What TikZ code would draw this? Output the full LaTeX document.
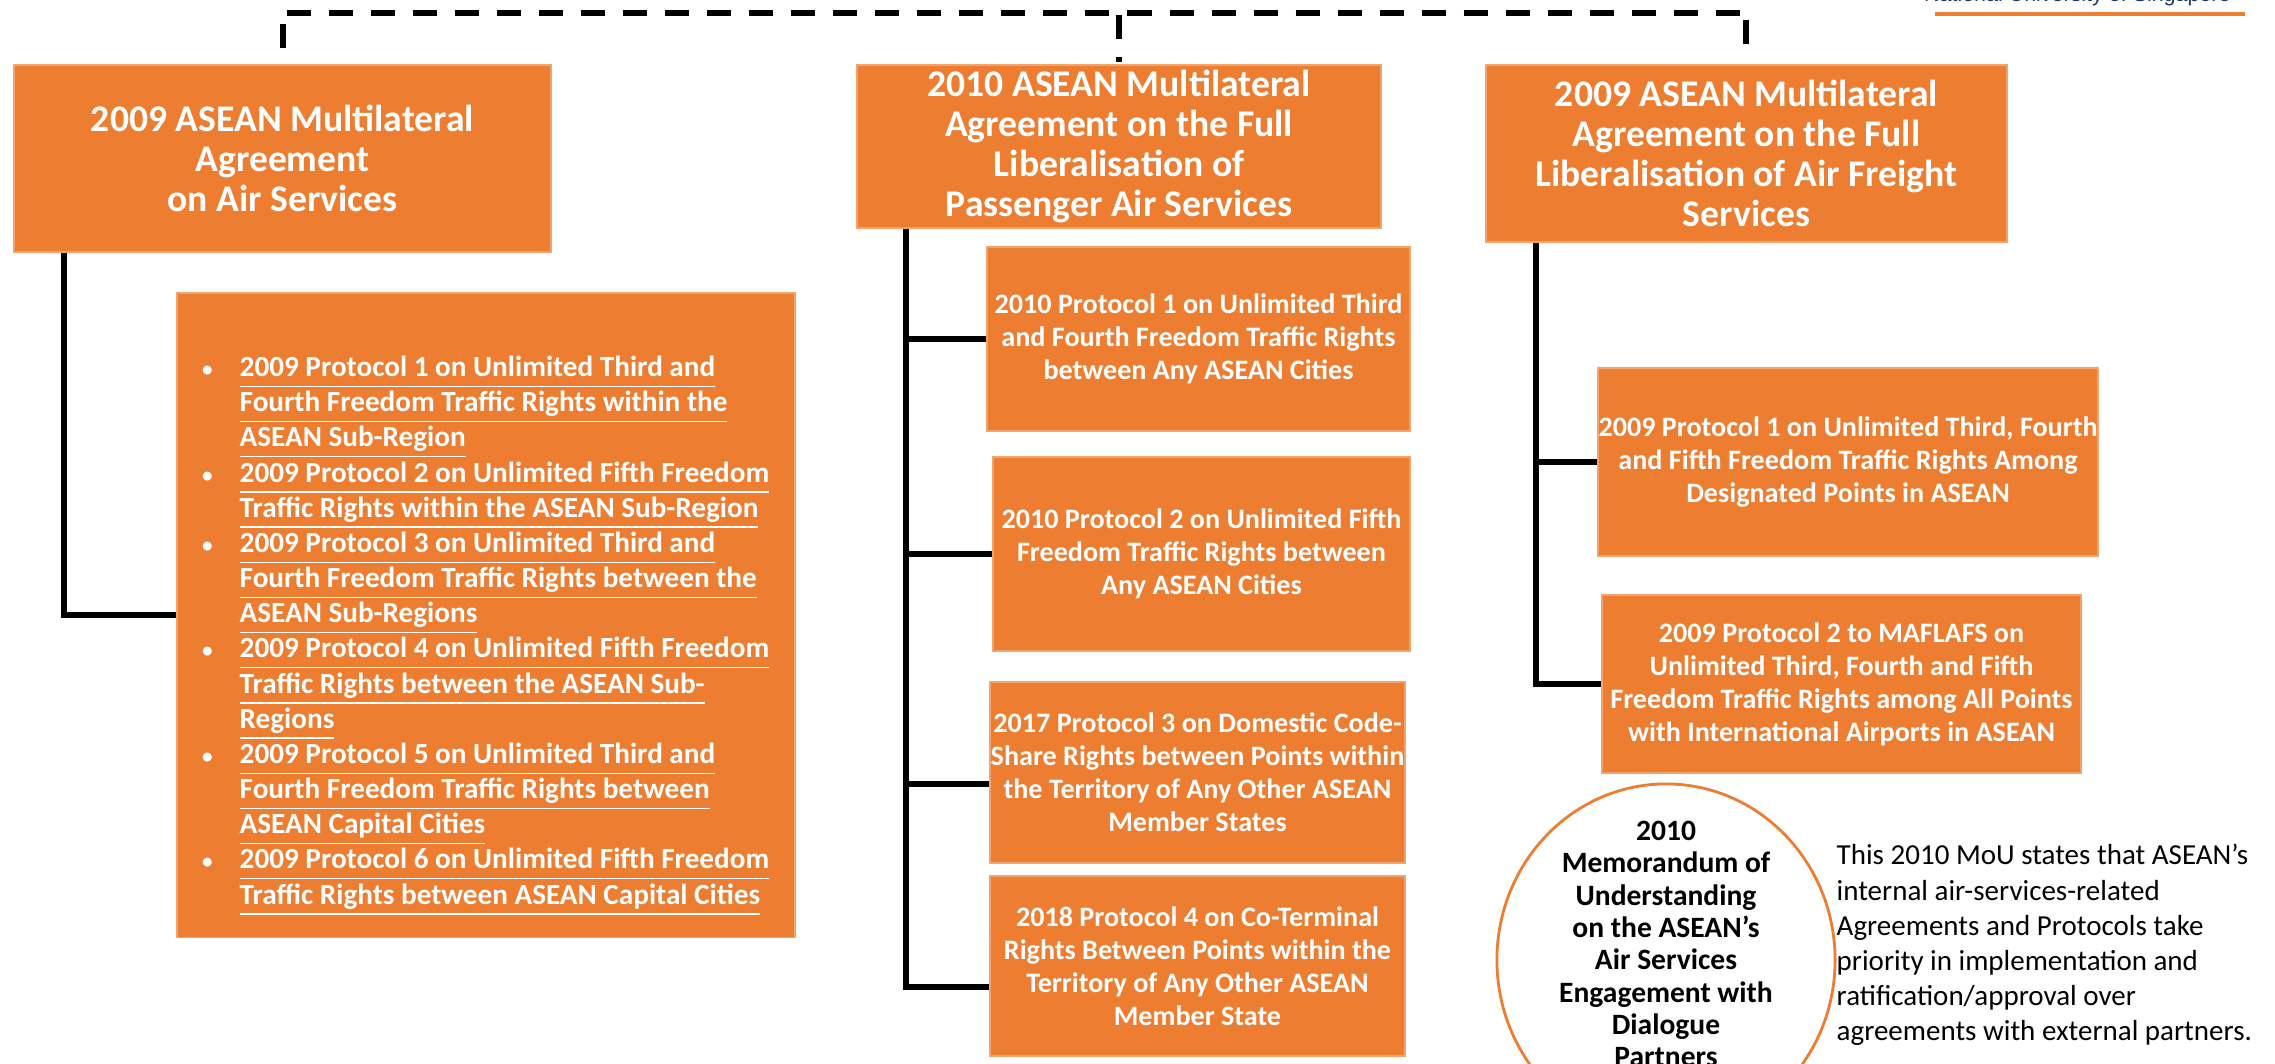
\documentclass[tikz,border=0pt]{standalone}
\usepackage{fontspec}
\setmainfont{Carlito}
\newfontfamily\nusfont{Liberation Sans}
\usepackage{xcolor}
\usepackage{tikz}
\usetikzlibrary{shapes.geometric}

\definecolor{asorange}{HTML}{ED7D31}
\definecolor{nusblue}{HTML}{203864}

\newcommand{\uln}[1]{\underline{#1\vphantom{gy}}}
\newcommand{\bul}{\makebox[0pt][r]{{\fontsize{6}{6}\selectfont\textbullet}\hspace{0.27cm}}}

\begin{document}
\begin{tikzpicture}[x=0.01cm,y=-0.01cm]
	\useasboundingbox (0,0) rectangle (2275,1063);
	\tikzset{align=center}
	
	\tikzset{headbox/.style = {rectangle,fill=asorange,draw=asorange!70!white,line width=0.4pt,inner sep=0pt,text=white,font=\bfseries\fontsize{10.7}{11.4}\selectfont}}
	
	\tikzset{protbox/.style = {rectangle,fill=asorange,draw=asorange!70!white,line width=0.4pt,inner sep=0pt,text=white,font=\bfseries\fontsize{8}{9.4}\selectfont}}
	
	\tikzset{link/.style = {line width=1.7pt}}
	
	\tikzset{bus/.style = {line width=1.7pt,dash pattern=on 0.24cm off 0.18cm}}
	
	% header
	\node[anchor=base east,text=nusblue,font=\nusfont\fontsize{6.1}{7}\selectfont] (nus) at (2243,1) {National University of Singapore};
	\fill[asorange] (1935,12) rectangle (2245,16);
	
	% agreements
	\node[headbox,minimum width=5.37cm,minimum height=1.87cm] (masa) at (282.5,158.5) {2009 ASEAN Multilateral\\Agreement\\on Air Services};
	
	\node[headbox,minimum width=5.24cm,minimum height=1.63cm] (mafl) at (1119,146.5) {2010 ASEAN Multilateral\\Agreement on the Full\\Liberalisation of\\Passenger Air Services};
	
	\node[headbox,minimum width=5.21cm,minimum height=1.77cm] (mafla) at (1746.5,153.5) {2009 ASEAN Multilateral\\Agreement on the Full\\Liberalisation of Air Freight\\Services};
	
	% protocols
	\node[protbox,minimum width=6.18cm,minimum height=6.44cm] (plist) at (486,615) {};
	\node[anchor=west,align=left,inner sep=0pt,text=white,font=\bfseries\fontsize{8.3}{10}\selectfont] (plisttxt) at (239,636) {%
		\bul\uln{2009 Protocol 1 on Unlimited Third and}\\
		\uln{Fourth Freedom Traffic Rights within the}\\
		\uln{ASEAN Sub-Region}\\
		\bul\uln{2009 Protocol 2 on Unlimited Fifth Freedom}\\
		\uln{Traffic Rights within the ASEAN Sub-Region}\\
		\bul\uln{2009 Protocol 3 on Unlimited Third and}\\
		\uln{Fourth Freedom Traffic Rights between the}\\
		\uln{ASEAN Sub-Regions}\\
		\bul\uln{2009 Protocol 4 on Unlimited Fifth Freedom}\\
		\uln{Traffic Rights between the ASEAN Sub-}\\
		\uln{Regions}\\
		\bul\uln{2009 Protocol 5 on Unlimited Third and}\\
		\uln{Fourth Freedom Traffic Rights between}\\
		\uln{ASEAN Capital Cities}\\
		\bul\uln{2009 Protocol 6 on Unlimited Fifth Freedom}\\
		\uln{Traffic Rights between ASEAN Capital Cities}};
	
	\node[protbox,minimum width=4.23cm,minimum height=1.84cm] (pb1) at (1198.5,339) {2010 Protocol 1 on Unlimited Third\\and Fourth Freedom Traffic Rights\\between Any ASEAN Cities};
	
	\node[protbox,minimum width=4.17cm,minimum height=1.94cm] (pb2) at (1201.5,554) {2010 Protocol 2 on Unlimited Fifth\\Freedom Traffic Rights between\\Any ASEAN Cities};
	
	\node[protbox,minimum width=4.15cm,minimum height=1.81cm] (pb3) at (1197.5,772.5) {2017 Protocol 3 on Domestic Code-\\Share Rights between Points within\\the Territory of Any Other ASEAN\\Member States};
	
	\node[protbox,minimum width=4.15cm,minimum height=1.80cm] (pb4) at (1197.5,966) {2018 Protocol 4 on Co-Terminal\\Rights Between Points within the\\Territory of Any Other ASEAN\\Member State};
	
	\node[protbox,minimum width=5.00cm,minimum height=1.88cm] (pc1) at (1848,462) {2009 Protocol 1 on Unlimited Third, Fourth\\and Fifth Freedom Traffic Rights Among\\Designated Points in ASEAN};
	
	\node[protbox,minimum width=4.79cm,minimum height=1.78cm] (pc2) at (1841.5,684) {2009 Protocol 2 to MAFLAFS on\\Unlimited Third, Fourth and Fifth\\Freedom Traffic Rights among All Points\\with International Airports in ASEAN};
	
	% memorandum
	\node[ellipse,draw=asorange,fill=white,line width=0.8pt,inner sep=0pt,minimum width=3.38cm,minimum height=3.52cm] (mou) at (1666,960) {};
	\node[inner sep=0pt,font=\bfseries\fontsize{8.4}{9.2}\selectfont] (moutxt) at (1666,944) {2010\\Memorandum of\\Understanding\\on the ASEAN’s\\Air Services\\Engagement with\\Dialogue\\Partners};
	
	\node[anchor=west,align=left,inner sep=0pt,font=\fontsize{8.25}{10}\selectfont] (note) at (1836,945) {This 2010 MoU states that ASEAN’s\\internal air-services-related\\Agreements and Protocols take\\priority in implementation and\\ratification/approval over\\agreements with external partners.};
	
	% dashed bus
	\coordinate (busl) at (287,13);
	\coordinate (busr) at (1746,13);
	\coordinate (stubat) at (283,24);
	\coordinate (stubab) at (283,48);
	\coordinate (stubbt) at (1119,15);
	\coordinate (stubbb) at (1119,62);
	\coordinate (stubct) at (1746,20);
	\coordinate (stubcb) at (1746,44);
	\draw[bus] (busl) -- (busr);
	\draw[bus] (stubat) -- (stubab);
	\draw[bus] (stubbt) -- (stubbb);
	\draw[bus] (stubct) -- (stubcb);
	
	% links
	\begin{scope}[link]
	\draw (masa.south west) ++(51,0) |- (plist.west);
	\draw (mafl.south west) ++(50,0) |- ([yshift=-0.21cm]pb4.west);
	\draw (mafl.south west) ++(50,0) |- (pb1.west);
	\draw (mafl.south west) ++(50,0) |- (pb2.west);
	\draw (mafl.south west) ++(50,0) |- ([yshift=-0.115cm]pb3.west);
	\draw (mafla.south west) ++(51,0) |- (pc2.west);
	\draw (mafla.south west) ++(51,0) |- (pc1.west);
	\end{scope}
\end{tikzpicture}
\end{document}
